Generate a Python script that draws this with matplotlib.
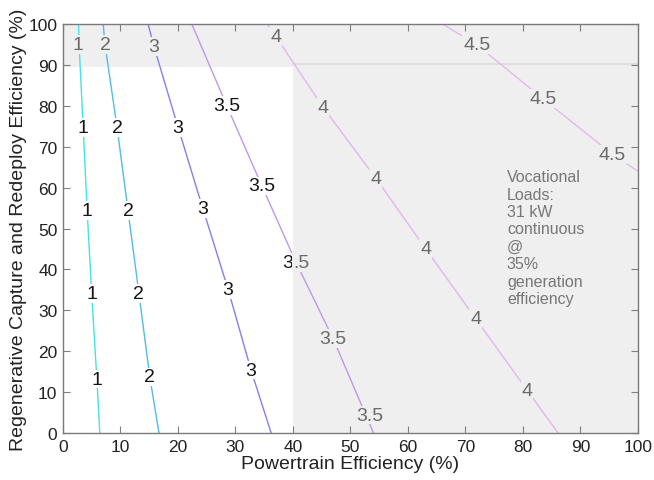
import matplotlib
matplotlib.use("Agg")
import matplotlib.pyplot as plt
from matplotlib.patches import Rectangle

plt.rcParams['font.family'] = ['Liberation Sans', 'DejaVu Sans']

# ---- data ----
levels = ["1", "2", "3", "3.5", "4", "4.5"]
line_colors = ["#45e2e6", "#52bce8", "#8580e6", "#bf98e8", "#e0b6ec", "#e4b8ec"]

# contour polylines (Powertrain eff %, Regen eff %)
l1_x = [6.4, 5.9, 5.0, 4.2, 3.5, 2.8, 2.7]
l1_y = [0, 13, 34, 54.5, 75, 95, 100]
l2_x = [16.7, 15.1, 13.2, 11.3, 9.4, 7.3, 7.0]
l2_y = [0, 13.7, 34.2, 54.5, 74.8, 95, 100]
l3_x = [36.2, 32.7, 28.7, 24.3, 20.0, 15.8, 14.8]
l3_y = [0, 15.4, 35.2, 55, 74.8, 94.6, 100]
l35_x = [54.0, 47.0, 40.5, 34.6, 28.5, 22.4]
l35_y = [0, 23, 41.8, 60.4, 80, 100]
l4_x = [86.1, 80.7, 71.8, 63.1, 54.4, 45.2, 37.0, 35.5]
l4_y = [0, 10.5, 27.9, 45, 62.3, 79.7, 97, 100]
l45_x = [66.0, 72.0, 83.5, 95.5, 100]
l45_y = [100, 94.9, 81.7, 68.2, 64]

lines_x = [l1_x, l2_x, l3_x, l35_x, l4_x, l45_x]
lines_y = [l1_y, l2_y, l3_y, l35_y, l4_y, l45_y]

# label positions per level (x, y)
lab_1 = [(2.6, 95.1), (3.5, 74.8), (4.2, 54.5), (5.0, 34.0), (5.9, 13.2)]
lab_2 = [(7.3, 95.0), (9.4, 74.8), (11.3, 54.5), (13.2, 34.2), (15.1, 13.7)]
lab_3 = [(15.8, 94.6), (20.0, 74.8), (24.3, 55.0), (28.7, 35.2), (32.7, 15.4)]
lab_35 = [(28.5, 80.0), (34.6, 60.4), (47.0, 23.0), (53.4, 4.4)]
lab_4 = [(37.0, 97.0), (45.2, 79.7), (54.4, 62.3), (63.1, 45.0), (71.8, 27.9), (80.7, 10.5)]
lab_45 = [(72.0, 94.9), (83.5, 81.7), (95.5, 68.2)]
labels_pos = [lab_1, lab_2, lab_3, lab_35, lab_4, lab_45]

x_ticks = [0, 10, 20, 30, 40, 50, 60, 70, 80, 90, 100]
y_ticks = [0, 10, 20, 30, 40, 50, 60, 70, 80, 90, 100]

limit_x = 40
limit_y = 89.5

note = "Vocational\nLoads:\n31 kW\ncontinuous\n@\n35%\ngeneration\nefficiency"

# ---- figure ----
fig = plt.figure(figsize=(6.54, 4.81), dpi=100)
ax = fig.add_axes([0.0963, 0.0977, 0.8792, 0.8503])
ax.set_xlim(0, 100)
ax.set_ylim(0, 100)

grey_bg = "#efefef"
ax.add_patch(Rectangle((limit_x, 0), 100 - limit_x, 100, facecolor=grey_bg, edgecolor="none", zorder=0))
ax.add_patch(Rectangle((0, limit_y), limit_x, 100 - limit_y, facecolor=grey_bg, edgecolor="none", zorder=0))
ax.plot([limit_x, 100], [90.2, 90.2], color="#dadada", lw=1.2, zorder=0.5)

for xs, ys, c in zip(lines_x, lines_y, line_colors):
    ax.plot(xs, ys, color=c, lw=1.0, zorder=1)

def in_white(x, y):
    return x < limit_x and y < limit_y

for lev, pts in zip(levels, labels_pos):
    for (x, y) in pts:
        white = in_white(x, y)
        ax.text(x, y, lev, ha="center", va="center", fontsize=14,
                color="#151515" if white else "#6a6a6a",
                bbox=dict(boxstyle="square,pad=0.05", fc="white" if white else grey_bg, ec="none"),
                zorder=3)

# split label on the boundary
ax.text(40.0, 41.8, "3", ha="right", va="center", fontsize=14, color="#151515",
        bbox=dict(boxstyle="square,pad=0.05", fc="white", ec="none"), zorder=3)
ax.text(40.0, 41.8, ".5", ha="left", va="center", fontsize=14, color="#6a6a6a",
        bbox=dict(boxstyle="square,pad=0.05", fc=grey_bg, ec="none"), zorder=3)

ax.text(77.2, 64.5, note, ha="left", va="top", fontsize=11.5, color="#777777",
        linespacing=1.2, zorder=3)

ax.set_xticks(x_ticks)
ax.set_yticks(y_ticks)
ax.tick_params(direction="in", top=True, right=True, length=5, width=0.8,
               color="#808080", labelsize=12.5, labelcolor="#222222", pad=4)
for s in ax.spines.values():
    s.set_color("#7a7a7a")
    s.set_linewidth(1.0)

ax.set_xlabel("Powertrain Efficiency (%)", fontsize=14, color="#222222", labelpad=1)
ax.set_ylabel("Regenerative Capture and Redeploy Efficiency (%)", fontsize=14,
              color="#222222", labelpad=1)

fig.savefig("out.png", dpi=100)
